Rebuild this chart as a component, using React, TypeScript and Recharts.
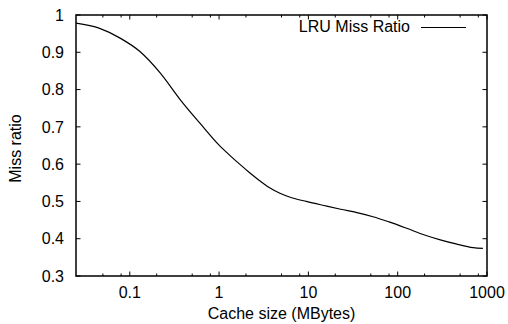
import React from 'react';
import { LineChart, Line, XAxis, YAxis, Legend, ReferenceArea } from 'recharts';

// cache size in MBytes (log axis) and LRU miss ratio
const cacheSizes = [0.025, 0.046, 0.078, 0.13, 0.22, 0.37, 0.61, 1.0, 1.3, 1.7, 2.2, 2.8, 3.6, 4.8, 6.5, 9.5, 15, 23, 35, 53, 80, 126, 200, 300, 450, 700, 900];
const missRatios = [0.978, 0.964, 0.938, 0.902, 0.844, 0.772, 0.71, 0.651, 0.625, 0.6, 0.577, 0.557, 0.538, 0.522, 0.51, 0.5, 0.489, 0.479, 0.47, 0.459, 0.445, 0.428, 0.41, 0.397, 0.386, 0.376, 0.374];

const xMajorTicks = [0.1, 1, 10, 100, 1000];
const xMinorTicks = [0.05, 0.08, 0.2, 0.5, 0.8, 2, 5, 8, 20, 50, 80, 200, 500, 800];
const yTicks = [0.3, 0.4, 0.5, 0.6, 0.7, 0.8, 0.9, 1];

const seriesName = 'LRU Miss Ratio';
const xTitle = 'Cache size (MBytes)';
const yTitle = 'Miss ratio';

const data = cacheSizes.map((size, i) => ({ size, ratio: missRatios[i] }));
const xAllTicks = [...xMinorTicks, ...xMajorTicks].sort((a, b) => a - b);

const FONT = '"Liberation Sans", Arial, Helvetica, sans-serif';
const xDomain = [0.025, 1000];
const yDomain = [0.3, 1];
const MAJOR = 4.5;
const MINOR = 2.5;
const X_GAP = 11; // plot edge -> top of x labels
const Y_GAP = 12; // plot edge -> end of y labels

const isMajor = (v: number) => xMajorTicks.includes(v);

const BottomTick = (props: any) => {
  const { x, y, payload } = props;
  const v = payload.value;
  const edge = y - X_GAP;
  const len = isMajor(v) ? MAJOR : MINOR;
  return (
    <g>
      <line x1={x} x2={x} y1={edge} y2={edge - len} stroke="#000" strokeWidth={1} />
      {isMajor(v) && (
        <text x={x} y={y} dy="0.71em" textAnchor="middle" fontSize={16} fontFamily={FONT} fill="#000">{String(v)}</text>
      )}
    </g>
  );
};

const TopTick = (props: any) => {
  const { x, y, payload } = props;
  const len = isMajor(payload.value) ? MAJOR : MINOR;
  return <line x1={x} x2={x} y1={y} y2={y + len} stroke="#000" strokeWidth={1} />;
};

const LeftTick = (props: any) => {
  const { x, y, payload } = props;
  const edge = x + Y_GAP;
  return (
    <g>
      <line x1={edge} x2={edge + MAJOR} y1={y} y2={y} stroke="#000" strokeWidth={1} />
      <text x={x} y={y} dy="0.355em" textAnchor="end" fontSize={16} fontFamily={FONT} fill="#000">{String(payload.value)}</text>
    </g>
  );
};

const RightTick = (props: any) => {
  const { x, y } = props;
  return <line x1={x} x2={x - MAJOR} y1={y} y2={y} stroke="#000" strokeWidth={1} />;
};

const XTitle = (props: any) => {
  const { x, y, width, height } = props.viewBox;
  return (
    <text x={x + width / 2} y={y + height - 5} textAnchor="middle" fontSize={16} fontFamily={FONT} fill="#000">
      {xTitle}
    </text>
  );
};

const YTitle = (props: any) => {
  const { y, height } = props.viewBox;
  const cx = 21;
  const cy = y + height / 2 + 3;
  return (
    <text x={cx} y={cy} transform={`rotate(-90, ${cx}, ${cy})`} textAnchor="middle" fontSize={16} fontFamily={FONT} fill="#000">
      {yTitle}
    </text>
  );
};

const LegendBox = (props: any) => {
  const item = props.payload && props.payload[0];
  return (
    <div style={{ display: 'flex', alignItems: 'center', justifyContent: 'flex-end', fontFamily: FONT, fontSize: 16, color: '#000', lineHeight: '20px' }}>
      <span>{item ? item.value : seriesName}</span>
      <span style={{ display: 'inline-block', width: 45, borderTop: '1px solid #000', marginLeft: 11 }} />
    </div>
  );
};

export default function App() {
  return (
    <div style={{ position: 'absolute', left: 0, top: 0, background: '#fff' }}>
      <LineChart width={508} height={324} data={data} margin={{ top: 14, right: 20, bottom: 0, left: 0 }}>
        <XAxis xAxisId="main" dataKey="size" type="number" scale="log" domain={xDomain} ticks={xAllTicks}
          interval={0} height={48} tick={<BottomTick />} tickSize={0} tickMargin={X_GAP} axisLine={false} tickLine={false}
          label={<XTitle />} allowDataOverflow />
        <XAxis xAxisId="top" orientation="top" dataKey="size" type="number" scale="log" domain={xDomain} ticks={xAllTicks}
          interval={0} height={1} tick={<TopTick />} tickSize={0} tickMargin={0} axisLine={false} tickLine={false} allowDataOverflow />
        <YAxis yAxisId="left" type="number" domain={yDomain} ticks={yTicks} interval={0} width={76}
          tick={<LeftTick />} tickSize={0} tickMargin={Y_GAP} axisLine={false} tickLine={false}
          label={<YTitle />} allowDataOverflow />
        <YAxis yAxisId="right" orientation="right" type="number" domain={yDomain} ticks={yTicks} interval={0} width={1}
          tick={<RightTick />} tickSize={0} tickMargin={0} axisLine={false} tickLine={false} allowDataOverflow />
        <ReferenceArea xAxisId="main" yAxisId="left" x1={xDomain[0]} x2={xDomain[1]} y1={yDomain[0]} y2={yDomain[1]}
          fill="none" fillOpacity={0} stroke="#000" strokeWidth={1.5} strokeOpacity={1} ifOverflow="visible" />
        <Legend layout="vertical" align="center" verticalAlign="middle" content={<LegendBox />}
          wrapperStyle={{ position: 'absolute', left: 286, top: 17, width: 180, height: 20 }} />
        <Line xAxisId="main" yAxisId="left" type="monotone" dataKey="ratio" name={seriesName}
          stroke="#000" strokeWidth={1.2} dot={false} activeDot={false} isAnimationActive={false} />
      </LineChart>
    </div>
  );
}
